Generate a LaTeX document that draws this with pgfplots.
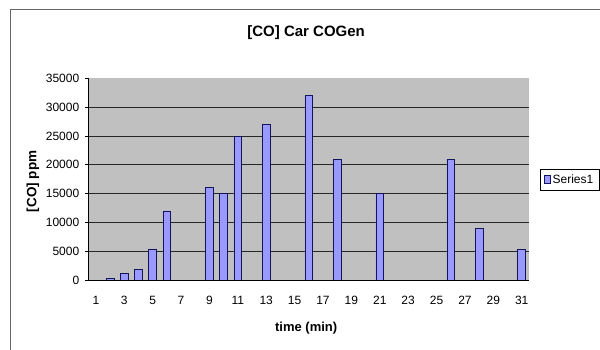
\documentclass[border=0pt]{standalone}
\usepackage{fontspec}
\setmainfont{Liberation Sans}
\usepackage{pgfplots}
\pgfplotsset{compat=1.18}
\definecolor{plotgray}{RGB}{192,192,192}
\definecolor{barfill}{RGB}{153,153,255}
\definecolor{barline}{RGB}{20,20,90}
\begin{document}
\begin{tikzpicture}[x=1pt,y=1pt]
\useasboundingbox (0,0) rectangle (600,350);
\fill[white] (0,0) rectangle (600,350);
\draw[black!60, line width=0.8pt] (10.5,-10) rectangle (620,340.5);
\begin{axis}[
  at={(88.8pt,70pt)}, anchor=south west,
  scale only axis, width=440pt, height=201.5pt,
  xmin=0.5, xmax=31.5, ymin=0, ymax=35000,
  axis background/.style={fill=plotgray},
  axis lines*=left,
  axis line style={black, line width=0.8pt, -},
  ybar, bar width=0.54,
  xtick={1,3,...,31},
  x tick style={draw=none},
  minor xtick={0.5,1.5,...,31.5},
  minor x tick style={black, line width=0.8pt},
  minor tick length=4pt,
  ytick={0,5000,...,35000},
  y tick style={black, line width=0.8pt},
  major tick length=4pt,
  tick align=outside,
  extra y ticks={5000,10000,...,30000},
  extra y tick labels={},
  extra y tick style={grid=major, major tick length=0pt},
  major grid style={black!85, line width=0.9pt},
  scaled y ticks=false,
  /pgf/number format/.cd, 1000 sep={}, assume math mode=true,
  /pgfplots/.cd,
  ticklabel style={font=\fontsize{12}{14}\selectfont},
  xticklabel style={yshift=-9pt},
  yticklabel style={xshift=-2pt},
  title={\bfseries [CO] Car COGen},
  title style={at={(axis description cs:0.494,1.2)}, anchor=center, font=\fontsize{15}{17}\selectfont},
  xlabel={\bfseries time (min)},
  xlabel style={at={(axis description cs:0.494,-0.24)}, anchor=center, font=\fontsize{13}{15}\selectfont},
  ylabel={\bfseries [CO] ppm},
  ylabel style={at={(axis description cs:-0.127,0.49)}, anchor=center, rotate=0, font=\fontsize{13.5}{15}\selectfont},
  legend style={at={(axis description cs:1.0255,0.552)}, anchor=north west, draw=black, line width=0.6pt,
    font=\fontsize{12}{14}\selectfont, inner sep=3.5pt, row sep=0pt},
  legend image code/.code={\draw[#1] (0pt,-4pt) rectangle (6pt,4pt);},
]
\addplot[fill=barfill, draw=barline, line width=0.8pt] coordinates {
 (2,200) (3,1200) (4,1800) (5,5400) (6,12000) (9,16000) (10,15000)
 (11,25000) (13,27000) (16,32000) (18,21000) (21,15000) (26,21000)
 (28,9000) (31,5300)
};
\addlegendentry{Series1}
\end{axis}
\end{tikzpicture}
\end{document}
